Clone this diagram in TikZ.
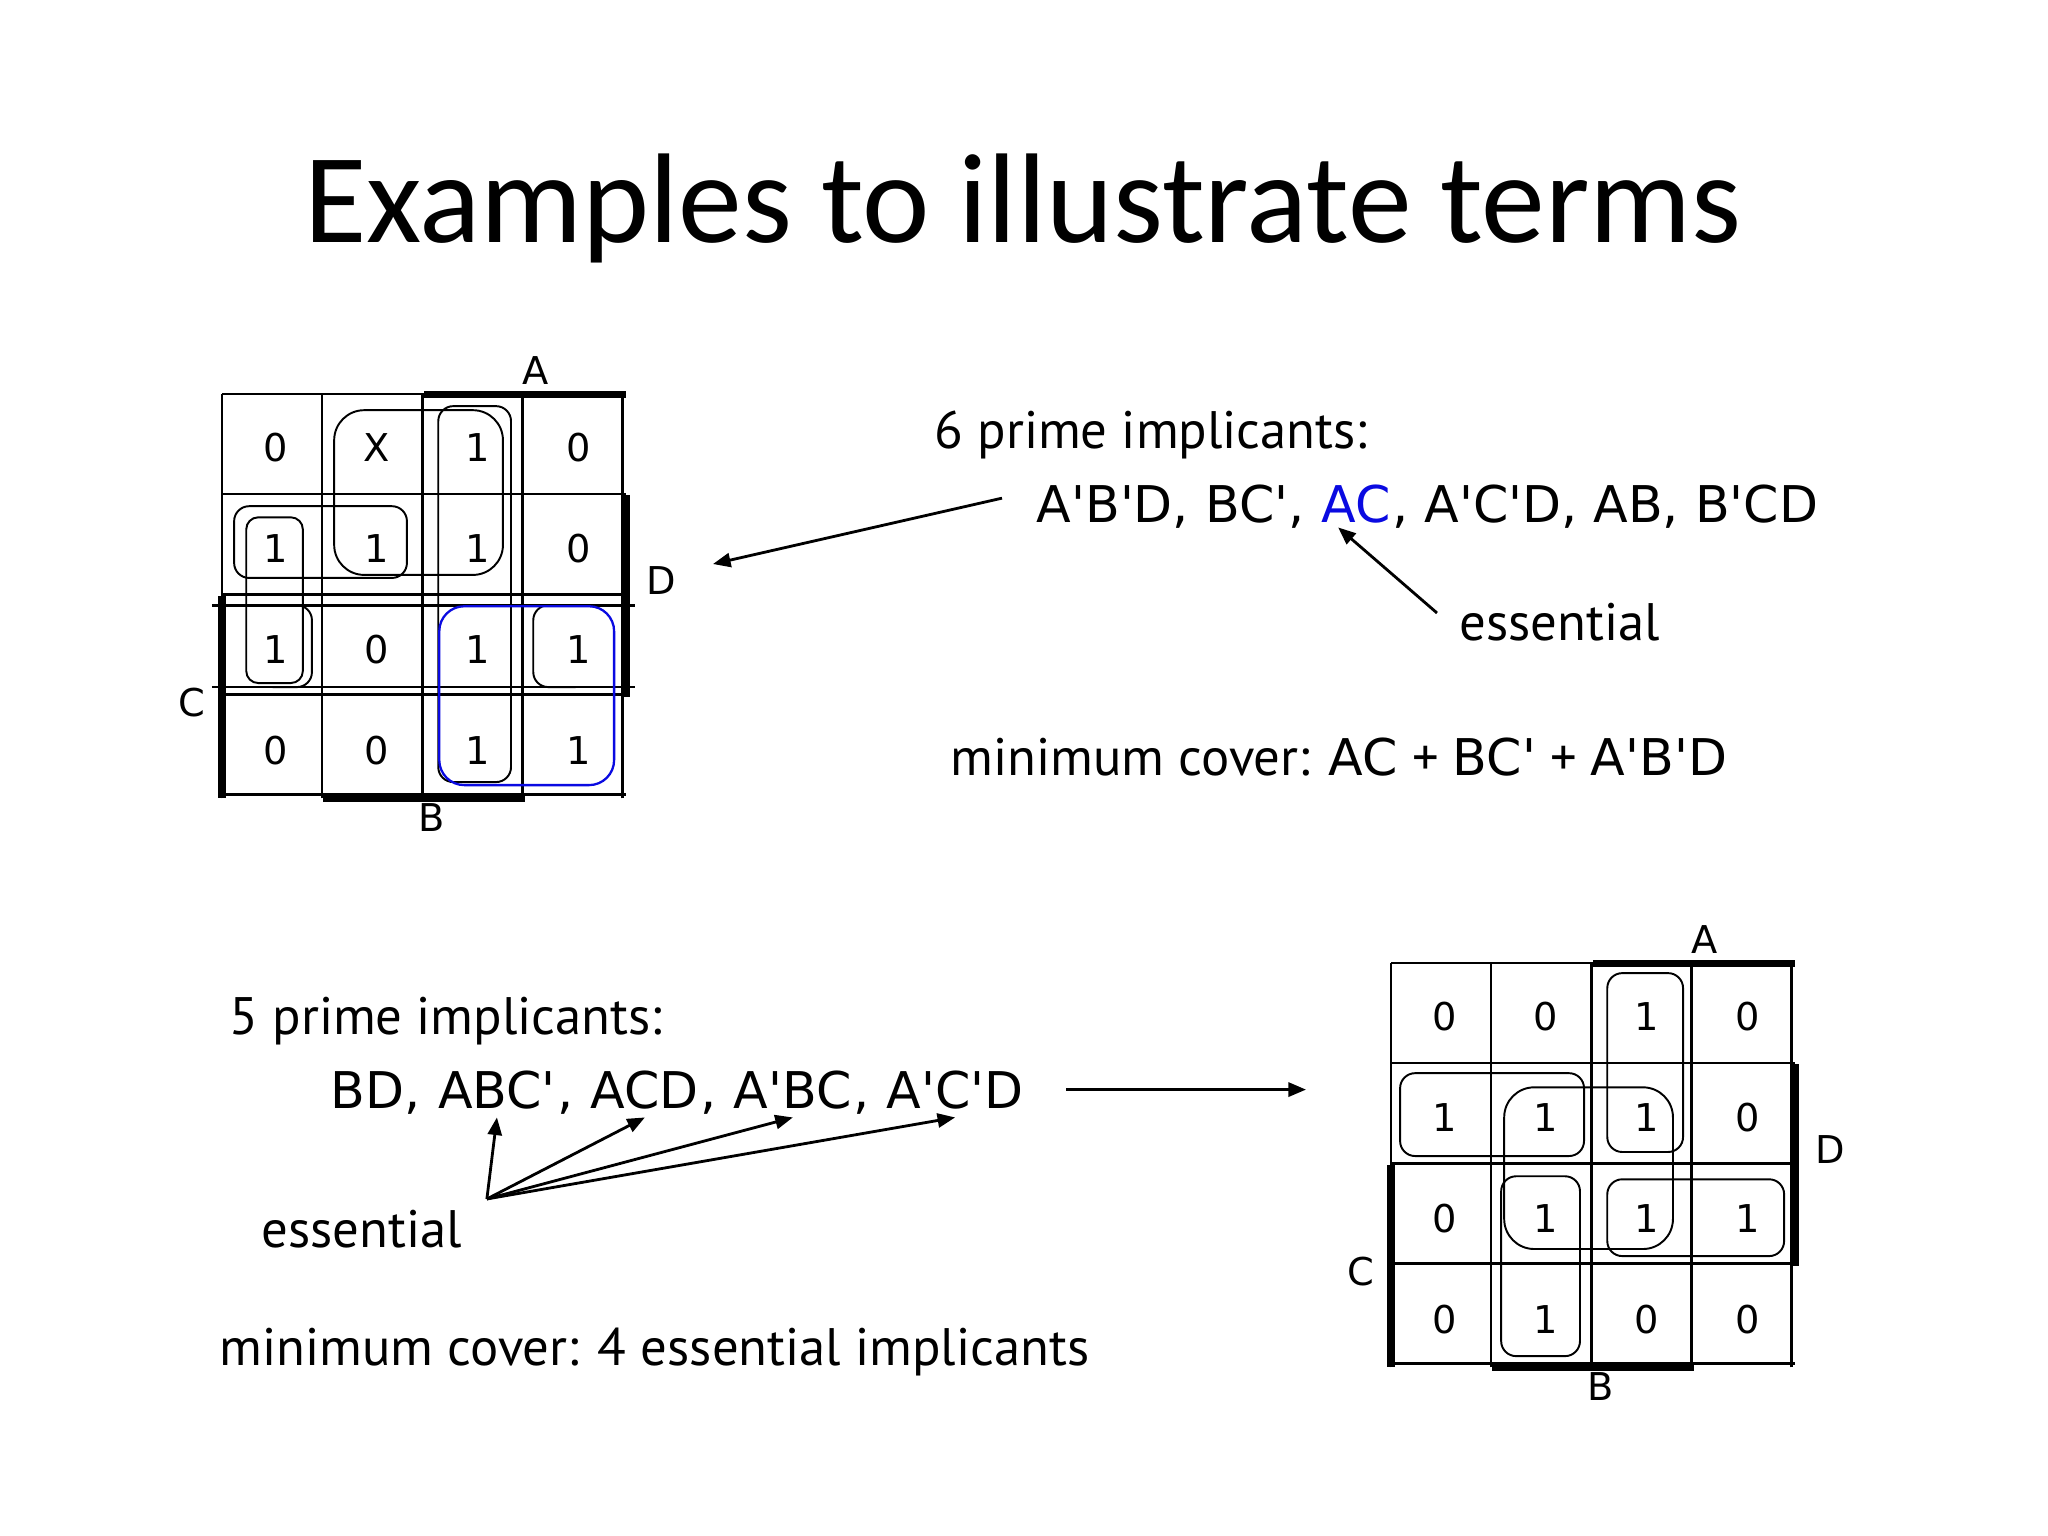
\documentclass[tikz,border=0pt]{standalone}
\usepackage{fontspec}
\setmainfont{PT Sans}
\newfontfamily\titlefont{Carlito}
\newfontfamily\capsfont{DejaVu Sans}
\usetikzlibrary{positioning}
\usetikzlibrary{arrows.meta}
\definecolor{loopblue}{RGB}{10,10,225}
\newcommand{\prm}{\textquotesingle}
\tikzset{
  kgrid/.style={line width=0.8pt},
  kbar/.style={line width=2pt},
  kloop/.style={line width=0.55pt, rounded corners=0.15cm},
  cell/.style={font=\fontsize{10.9}{12}\capsfont, inner sep=0pt},
  txt/.style={font=\fontsize{15}{18}\selectfont, inner sep=0pt, anchor=base west},
  caps/.style={txt, font=\fontsize{14.4}{18}\capsfont},
  arr/.style={line width=0.8pt, -{Triangle[length=5pt,width=4pt]}}
}

\begin{document}
\begin{tikzpicture}[x=0.01cm, y=-0.01cm]
    \useasboundingbox (0,0) rectangle (2048,1535);
    \fill[white] (0,0) rectangle (2048,1535);

    \node[font=\titlefont\fontsize{36.3}{40}\selectfont, anchor=base] (title) at (1023,242) {Examples to illustrate terms};

    \begin{scope}[shift={(222,394)}, x=1.01cm, y=-1.01cm]
        \foreach \i/\j/\v in {0/0/0, 1/0/X, 2/0/1, 3/0/0, 0/1/1, 1/1/1, 2/1/1, 3/1/0,
                              0/2/1, 1/2/0, 2/2/1, 3/2/1, 0/3/0, 1/3/0, 2/3/1, 3/3/1} {
            \node[cell] (t\i\j) at (\i+0.53, \j+0.53) {\v};
        }
        \draw[kgrid] (0,0) grid (4,4);
        \draw[kbar] (2,0) -- (4,0) (4,1) -- (4,3) (0,2) -- (0,4) (1,4) -- (3,4);
        \node[cell] (tA) at (3.1,-0.23) {A};
        \node[cell] (tD) at (4.35,1.85) {D};
        \node[cell] (tC) at (-0.3,3.05) {C};
        \node[cell] (tB) at (2.07,4.19) {B};

        \draw[kloop, rounded corners=0.3cm] (1.11,0.16) rectangle (2.78,1.79);
        \draw[kloop] (2.14,0.12) rectangle (2.86,3.84);
        \draw[kloop] (0.12,1.11) rectangle (1.83,1.82);
        \draw[kloop, rounded corners=0.12cm] (0.24,1.22) rectangle (0.80,2.86);
        \draw[kgrid] (-0.1,2.09) -- (4.09,2.09) (-0.1,2.9) -- (4.09,2.9);
        \draw[kloop] (0.5,2.09) -- (0.89,2.09) -- (0.89,2.9) -- (0.5,2.9);
        \draw[kloop] (3.5,2.09) -- (3.08,2.09) -- (3.08,2.9) -- (3.5,2.9);
        \draw[kloop, loopblue, line width=0.65pt, rounded corners=0.25cm] (2.15,2.1) rectangle (3.88,3.87);
    \end{scope}

    \begin{scope}[shift={(1391,963)}, x=1.01cm, y=-1.01cm]
        \foreach \i/\j/\v in {0/0/0, 1/0/0, 2/0/1, 3/0/0, 0/1/1, 1/1/1, 2/1/1, 3/1/0,
                              0/2/0, 1/2/1, 2/2/1, 3/2/1, 0/3/0, 1/3/1, 2/3/0, 3/3/0} {
            \node[cell] (b\i\j) at (\i+0.53, \j+0.53) {\v};
        }
        \draw[kgrid] (0,0) grid (4,4);
        \draw[kbar] (2,0) -- (4,0) (4,1) -- (4,3) (0,2) -- (0,4) (1,4) -- (3,4);
        \node[cell] (bA) at (3.1,-0.23) {A};
        \node[cell] (bD) at (4.35,1.85) {D};
        \node[cell] (bC) at (-0.3,3.05) {C};
        \node[cell] (bB) at (2.07,4.19) {B};

        \draw[kloop] (2.14,0.1) rectangle (2.89,1.87);
        \draw[kloop] (0.09,1.09) rectangle (1.91,1.91);
        \draw[kloop, rounded corners=0.3cm] (1.12,1.23) rectangle (2.79,2.83);
        \draw[kloop] (1.09,2.11) rectangle (1.87,3.89);
        \draw[kloop] (2.14,2.14) rectangle (3.89,2.9);
    \end{scope}

    \node[txt] (pi6) at (934,448) {6 prime implicants:};
    \node[caps] (pl1) at (1036,522) {A\prm B\prm D, BC\prm,\ \null};
    \node[caps, text=loopblue] (pac) at (pl1.base east) {AC};
    \node[caps] (pl3) at (pac.base east) {, A\prm C\prm D, AB, B\prm CD};
    \node[txt] (ess1) at (1459,640) {essential};
    \node[txt] (mc1) at (950,775) {minimum cover: {\capsfont\fontsize{14.4}{18}\selectfont AC} + {\capsfont\fontsize{14.4}{18}\selectfont BC\prm} + {\capsfont\fontsize{14.4}{18}\selectfont A\prm B\prm D}};
    \coordinate (km1) at (713,564);
    \draw[arr] ([xshift=-0.34cm, yshift=0.08cm]pl1.west) -- (km1);
    \draw[arr] ([shift={(-0.22cm,-0.11cm)}]ess1.north west) -- ([xshift=0.17cm, yshift=-0.04cm]pac.south west);

    \node[txt] (pi5) at (229,1034) {5 prime implicants:};
    \node[caps] (bl1) at (330,1108) {BD,\ \null};
    \node[caps] (bl2) at (bl1.base east) {ABC\prm};
    \node[caps] (bc2) at (bl2.base east) {,\ \null};
    \node[caps] (bl3) at (bc2.base east) {ACD};
    \node[caps] (bc3) at (bl3.base east) {,\ \null};
    \node[caps] (bl4) at (bc3.base east) {A\prm BC};
    \node[caps] (bc4) at (bl4.base east) {,\ \null};
    \node[caps] (bl5) at (bc4.base east) {A\prm C\prm D};
    \node[txt] (ess2) at (261,1247) {essential};
    \node[txt] (mc2) at (219,1365) {minimum cover: 4 essential implicants};
    \coordinate (fan) at ([shift={(0.24cm,0.1cm)}]ess2.north east);
    \foreach \t in {bl2, bl3, bl4, bl5} {
        \draw[arr] (fan) -- ([yshift=-0.08cm]\t.south);
    }
    \coordinate (km2) at (1306,1083);
    \draw[arr] ([xshift=0.42cm]bl5.east) coordinate (bs) -- (bs -| km2);
\end{tikzpicture}
\end{document}
